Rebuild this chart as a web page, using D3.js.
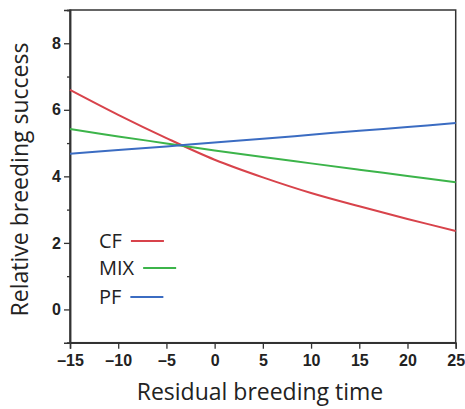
<!DOCTYPE html>
<html><head><meta charset="utf-8">
<script src="https://cdn.jsdelivr.net/npm/d3@7"></script>
<style>body{margin:0;background:#fff}</style>
</head><body>
<svg id="c" width="465" height="409"></svg>
<script>
const xValues = [-15, -10, -5, 0, 5, 10, 15, 20, 25];
const cfValues = [6.6, 5.85, 5.15, 4.5, 3.97, 3.5, 3.1, 2.72, 2.36];
const mixValues = [5.42, 5.2, 4.99, 4.78, 4.58, 4.39, 4.2, 4.01, 3.82];
const pfValues = [4.68, 4.79, 4.9, 5.02, 5.13, 5.25, 5.37, 5.48, 5.6];
const seriesNames = ["CF", "MIX", "PF"];
const seriesColors = ["#d8434b", "#3cb44a", "#3b6cc2"];
const xTicks = [-15, -10, -5, 0, 5, 10, 15, 20, 25];
const yTicks = [0, 2, 4, 6, 8];
const yMinorTicks = [-1, 1, 3, 5, 7, 9];

const svg = d3.select("#c");
const L = 70, R = 455.7, T = 10, B = 342.7;
const x = d3.scaleLinear().domain([-15, 25]).range([L, R]);
const y = d3.scaleLinear().domain([-1, 9]).range([B, T]);
const axisColor = "#333";

svg.append("rect").attr("x", L).attr("y", T).attr("width", R - L).attr("height", B - T)
  .attr("fill", "none").attr("stroke", axisColor).attr("stroke-width", 1.5);

const fmt = d => (d < 0 ? "\u2013" + Math.abs(d) : String(d));

const gx = svg.append("g").attr("transform", `translate(0,${B})`)
  .call(d3.axisBottom(x).tickValues(xTicks).tickSize(6).tickPadding(6).tickFormat(fmt));
const gy = svg.append("g").attr("transform", `translate(${L},0)`)
  .call(d3.axisLeft(y).tickValues(yTicks).tickSize(6).tickPadding(3).tickFormat(fmt));
const gym = svg.append("g").attr("transform", `translate(${L},0)`)
  .call(d3.axisLeft(y).tickValues(yMinorTicks).tickSize(3).tickFormat(""));
[gx, gy, gym].forEach(g => {
  g.select(".domain").attr("stroke", axisColor).attr("stroke-width", 1.5);
  g.selectAll(".tick line").attr("stroke", axisColor).attr("stroke-width", 1.3);
  g.selectAll(".tick text").attr("fill", "#222").style("font-family", "'Liberation Sans', Arial, sans-serif")
    .style("font-size", "16px").style("font-weight", "bold");
});

const series = [cfValues, mixValues, pfValues];
const line = d3.line().x((d, i) => x(xValues[i])).y(d => y(d)).curve(d3.curveCatmullRom);
series.forEach((vals, k) => {
  svg.append("path").datum(vals).attr("d", line).attr("fill", "none")
    .attr("stroke", seriesColors[k]).attr("stroke-width", 2);
});

const legendY = [241, 268, 297];
seriesNames.forEach((name, k) => {
  const t = svg.append("text").attr("x", 99).attr("y", legendY[k] + 7)
    .attr("fill", "#222").style("font-family", "'Open Sans', sans-serif").style("font-size", "20px").text(name);
  const w = t.node().getComputedTextLength();
  svg.append("line").attr("x1", 99 + w + 9).attr("x2", 99 + w + 42)
    .attr("y1", legendY[k]).attr("y2", legendY[k])
    .attr("stroke", seriesColors[k]).attr("stroke-width", 2);
});

svg.append("text").attr("x", 260).attr("y", 400).attr("text-anchor", "middle")
  .attr("fill", "#222").style("font-family", "'Open Sans', sans-serif").style("font-size", "23px")
  .text("Residual breeding time");
svg.append("text").attr("transform", `translate(28,179.5) rotate(-90)`).attr("text-anchor", "middle")
  .attr("fill", "#222").style("font-family", "'Open Sans', sans-serif").style("font-size", "23px")
  .text("Relative breeding success");
</script>
</body></html>
